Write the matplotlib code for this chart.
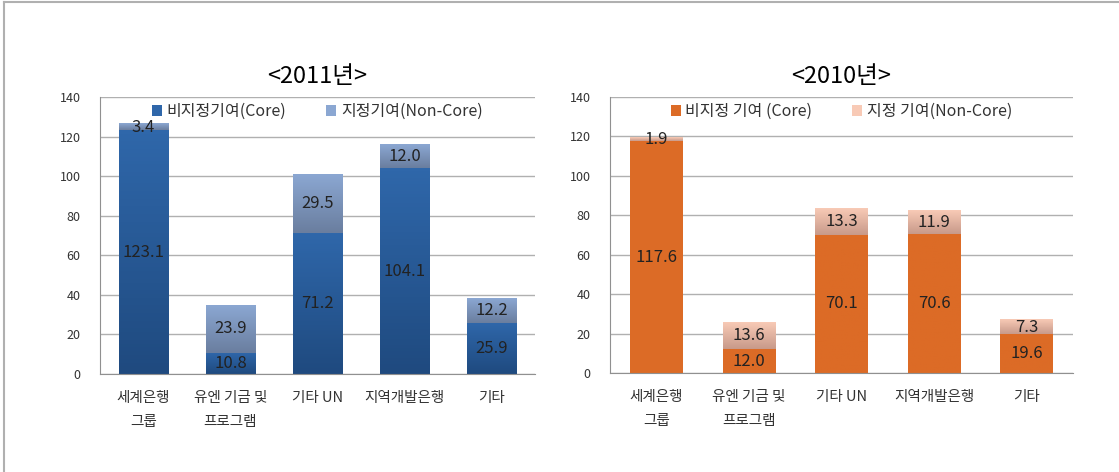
import matplotlib.pyplot as plt
import numpy as np
from matplotlib.colors import LinearSegmentedColormap
from matplotlib.lines import Line2D
from matplotlib.patches import Patch

plt.rcParams['font.family'] = ['Noto Sans CJK KR', 'DejaVu Sans']

categories = ['세계은행\n그룹', '유엔 기금 및\n프로그램', '기타 UN', '지역개발은행', '기타']
core_2011 = [123.1, 10.8, 71.2, 104.1, 25.9]
noncore_2011 = [3.4, 23.9, 29.5, 12.0, 12.2]
core_2010 = [117.6, 12.0, 70.1, 70.6, 19.6]
noncore_2010 = [1.9, 13.6, 13.3, 11.9, 7.3]
yticks = [0, 20, 40, 60, 80, 100, 120, 140]


def grad_bars(ax, x, bottom, height, top_col, bot_col, width=0.57):
    cmap = LinearSegmentedColormap.from_list('g', [bot_col, top_col])
    grad = np.linspace(0, 1, 64).reshape(-1, 1)
    for xi, b, h in zip(x, bottom, height):
        ax.imshow(grad, cmap=cmap, origin='lower', aspect='auto',
                  extent=(xi - width / 2, xi + width / 2, b, b + h), zorder=2)


def panel(ax, title, core, noncore, cols, labels):
    x = np.arange(len(categories))
    grad_bars(ax, x, [0] * len(core), core, cols[0], cols[1])
    grad_bars(ax, x, core, noncore, cols[2], cols[3])
    for xi, c, n in zip(x, core, noncore):
        ax.text(xi, c / 2, f'{c:.1f}', ha='center', va='center', fontsize=12, color='#222222', zorder=3)
        ax.text(xi, c + n / 2, f'{n:.1f}', ha='center', va='center', fontsize=12, color='#222222', zorder=3)
    ax.set_xlim(-0.5, len(categories) - 0.5)
    ax.set_ylim(0, 140)
    ax.set_yticks(yticks)
    ax.set_xticks(x)
    ax.set_xticklabels(categories, fontsize=10.5, color='#333333', linespacing=1.9)
    ax.tick_params(axis='y', labelsize=9, colors='#333333', length=0, pad=14)
    ax.tick_params(axis='x', length=0, pad=12)
    ax.grid(axis='y', color='#b0b0b0', linewidth=1)
    ax.set_axisbelow(True)
    for s in ['top', 'right']:
        ax.spines[s].set_visible(False)
    for s in ['left', 'bottom']:
        ax.spines[s].set_color('#909090')
    ax.set_title(title, fontsize=17, pad=10)
    handles = [Patch(facecolor=cols[0]), Patch(facecolor=cols[2])]
    ax.legend(handles, labels, loc='upper center', ncol=2, frameon=False, fontsize=11.5,
              handlelength=0.6, handleheight=0.6, handletextpad=0.3, columnspacing=2.5,
              bbox_to_anchor=(0.5, 1.03), labelcolor='#333333')


fig = plt.figure(figsize=(11.19, 4.72), dpi=100)
ax1 = fig.add_axes([100 / 1119, 1 - 374 / 472, 435 / 1119, 277 / 472])
ax2 = fig.add_axes([610 / 1119, 1 - 373 / 472, 463 / 1119, 276 / 472])

panel(ax1, '<2011년>', core_2011, noncore_2011,
      ['#2f67aa', '#1f4a7f', '#8ba7d2', '#6a7e9f'],
      ['비지정기여(Core)', '지정기여(Non-Core)'])
panel(ax2, '<2010년>', core_2010, noncore_2010,
      ['#dc6b26', '#dc6b26', '#f8cab6', '#c89a8a'],
      ['비지정 기여 (Core)', '지정 기여(Non-Core)'])

fig.add_artist(Line2D([4 / 1119, 1], [1 - 2 / 472, 1 - 2 / 472], color='#b0b0b0', linewidth=1.5))
fig.add_artist(Line2D([4 / 1119, 4 / 1119], [0, 1 - 2 / 472], color='#b0b0b0', linewidth=1.5))

plt.savefig('out.png', dpi=100)
